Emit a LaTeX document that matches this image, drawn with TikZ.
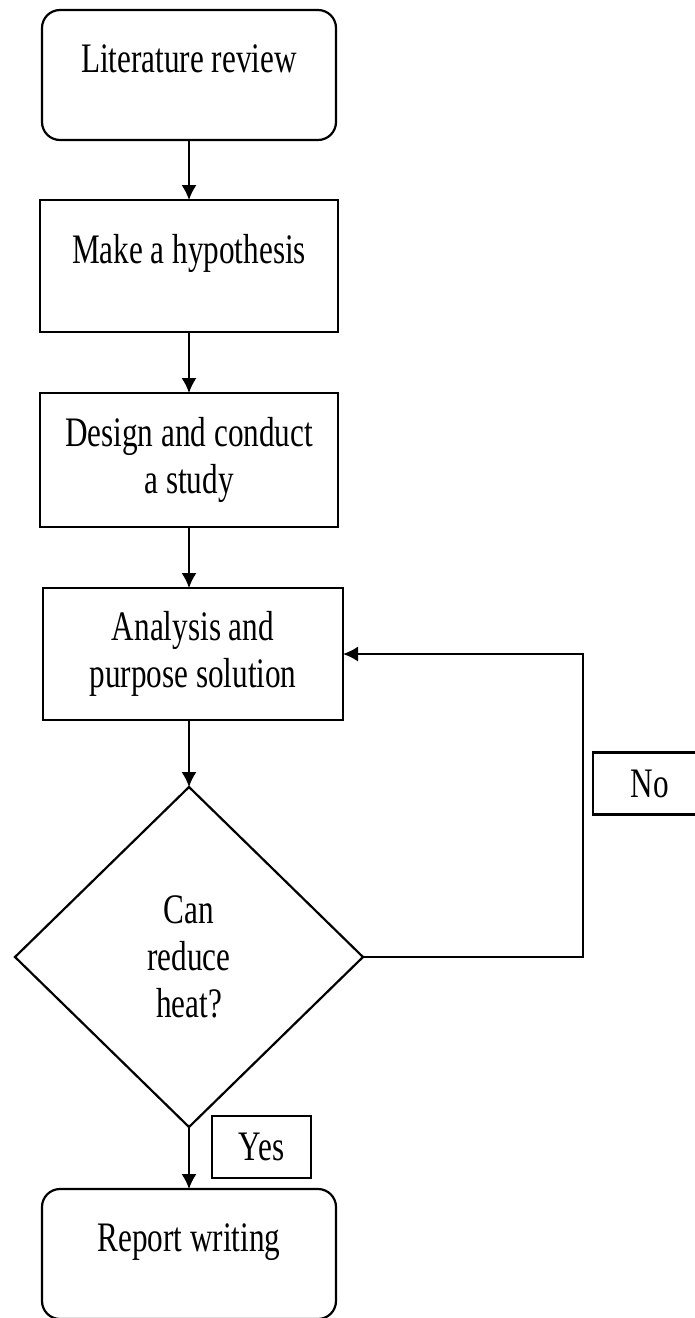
\documentclass[tikz,border=0pt]{standalone}
\usepackage{fontspec}
\setmainfont{Liberation Serif}[FakeStretch=0.743]
\usetikzlibrary{positioning}
\usetikzlibrary{arrows.meta}
\usetikzlibrary{shapes.geometric}

\begin{document}
\begin{tikzpicture}[>={Latex[length=7.5pt,width=7.5pt]},font=\fontsize{21pt}{23.5pt}\selectfont,
	proc/.style={draw,line width=1.1pt,minimum width=149pt,minimum height=66pt,align=center,outer sep=0pt},
	term/.style={proc,rounded corners=9pt,minimum width=147pt,minimum height=65pt},
	decide/.style={draw,line width=1.1pt,diamond,minimum width=174pt,minimum height=170pt,align=center,inner sep=0pt,outer sep=0pt},
	tag/.style={draw,line width=1.1pt,minimum height=31pt,outer sep=0pt},
	lifted/.style={text height=14pt,text depth=17pt},
	link/.style={->,line width=0.8pt}]
	\useasboundingbox (0,0) rectangle (347.5pt,-659pt);
	\node [term,lifted] at (94.5pt,-37.5pt) (lit) {Literature review};
	\node [proc,lifted,below=30pt of lit] (hypo) {Make a hypothesis};
	\node [proc,minimum height=67pt,below=30.5pt of hypo] (design) {Design and conduct\\a study};
	\node [proc,minimum width=150pt,below=30.5pt of design,xshift=2pt] (ana) {Analysis and\\purpose solution};
	\node [decide,below=33.5pt of ana,xshift=-2pt] (dec) {Can\\reduce\\heat?};
	\node [term,lifted,below=31pt of dec] (report) {Report writing};

	\node [tag,minimum width=49.5pt,anchor=north west] at ([xshift=11.5pt,yshift=5.5pt]dec.south) (yes) {Yes};
	\node [tag,minimum width=57pt] at (325pt,-391.75pt) (no) {No};

	\draw [link] (lit) -- (hypo);
	\draw [link] (hypo) -- (design);
	\draw [link] (design) -- (design.south |- ana.north);
	\draw [link] (ana.south -| dec.north) -- (dec);
	\draw [link] (dec) -- (report);
	\draw [link] (dec.east) -- ++(110pt,0) |- (ana.east);
\end{tikzpicture}
\end{document}
